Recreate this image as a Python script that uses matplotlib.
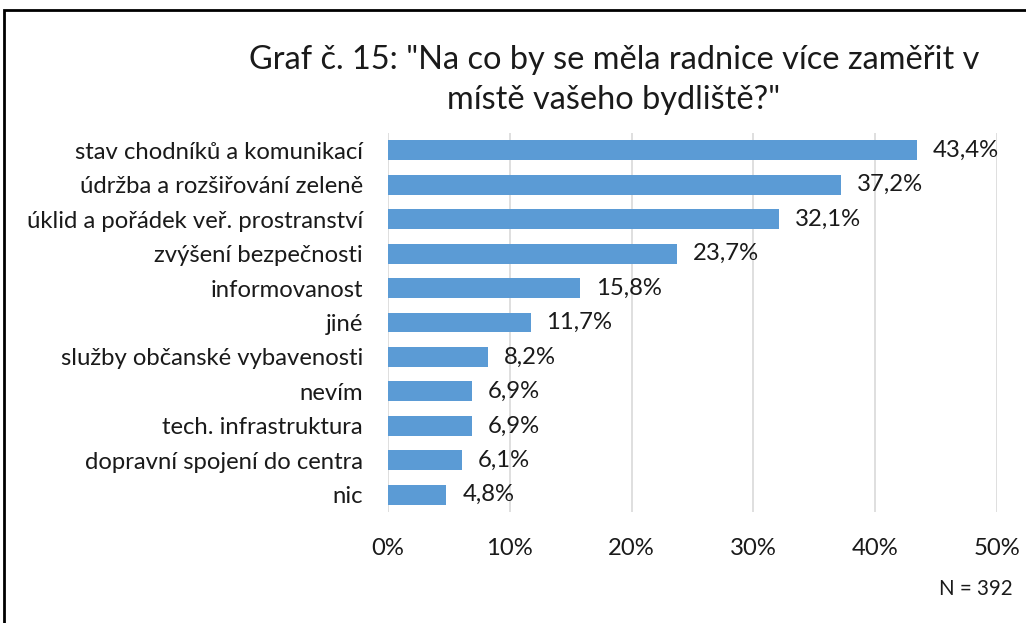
import matplotlib
matplotlib.use("Agg")
import matplotlib.pyplot as plt
from matplotlib.patches import Rectangle

categories = [
    "stav chodníků a komunikací",
    "údržba a rozšiřování zeleně",
    "úklid a pořádek veř. prostranství",
    "zvýšení bezpečnosti",
    "informovanost",
    "jiné",
    "služby občanské vybavenosti",
    "nevím",
    "tech. infrastruktura",
    "dopravní spojení do centra",
    "nic",
]
values = [43.4, 37.2, 32.1, 23.7, 15.8, 11.7, 8.2, 6.9, 6.9, 6.1, 4.8]
xticks = [0, 10, 20, 30, 40, 50]

W, H = 1026, 623
plt.rcParams['font.family'] = ['Lato', 'DejaVu Sans']
txt = "#1a1a1a"
fs = 17.2

fig = plt.figure(figsize=(W / 100, H / 100), dpi=100)
ax = fig.add_axes([388 / W, 1 - 512 / H, (997 - 388) / W, (512 - 133) / H])

ypos = list(range(len(categories)))
ax.barh(ypos, values, height=0.58, color="#5B9BD5", zorder=3)
for y, v in zip(ypos, values):
    ax.text(v + 1.3, y, f"{v:.1f}%".replace(".", ","), va="center", ha="left",
            fontsize=fs, color=txt)

ax.set_xlim(0, 50)
ax.set_ylim(len(categories) - 0.5, -0.5)
ax.set_yticks(ypos)
ax.set_yticklabels(categories, fontsize=fs, color=txt)
ax.set_xticks(xticks)
ax.set_xticklabels([f"{t}%" for t in xticks], fontsize=fs, color=txt)
ax.tick_params(axis="both", length=0)
ax.tick_params(axis="y", pad=18)
ax.tick_params(axis="x", pad=19)
ax.grid(axis="x", color="#D9D9D9", linewidth=1.2, zorder=0)
for s in ax.spines.values():
    s.set_visible(False)

fig.text(614 / W, 1 - 80 / H, 'Graf č. 15: "Na co by se měla radnice více zaměřit v\nmístě vašeho bydliště?"',
         ha="center", va="center", fontsize=23.4, color=txt, linespacing=1.4)
fig.text(1013 / W, 1 - 589 / H, "N = 392", ha="right", va="center", fontsize=14.8, color=txt)

fig.patches.append(Rectangle((4 / W, -0.05), 1.1, 1 - 10 / H + 0.05, transform=fig.transFigure,
                             fill=False, edgecolor="black", linewidth=2))

fig.savefig("out.png", dpi=100)
